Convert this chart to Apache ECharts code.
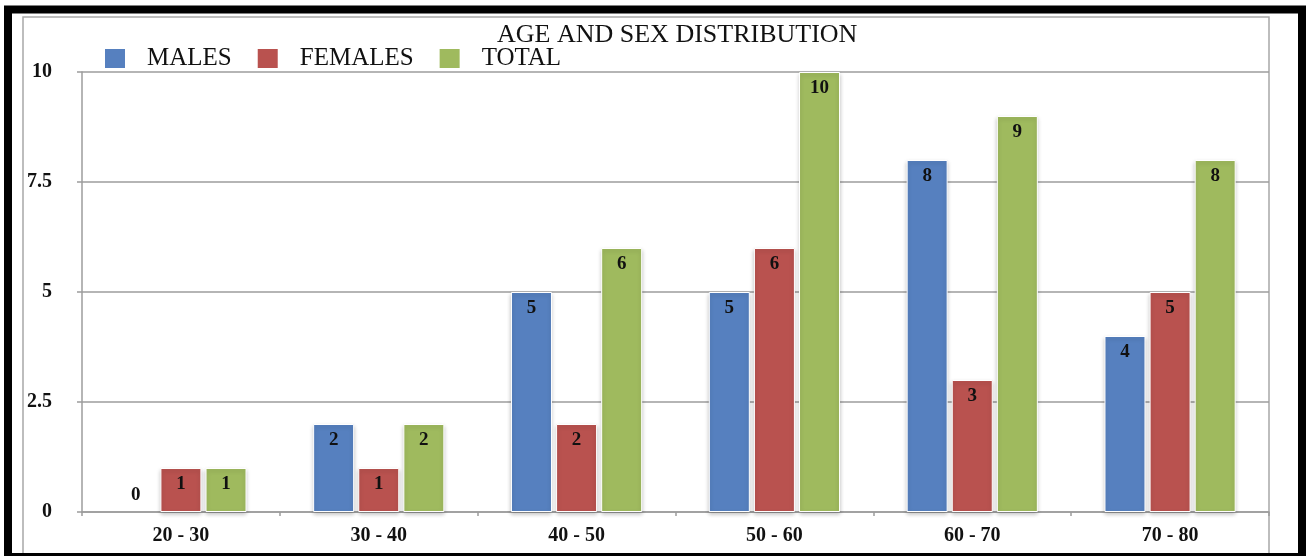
<!DOCTYPE html>
<html>
<head>
<meta charset="utf-8">
<script src="https://cdn.jsdelivr.net/npm/echarts@6/dist/echarts.min.js"></script>
<style>
  html, body { margin: 0; padding: 0; background: #fff; }
  #chart { width: 1306px; height: 556px; }
</style>
</head>
<body>
<div id="chart"></div>
<script>
// Age groups and counts per sex
const ageGroups = ['20 - 30', '30 - 40', '40 - 50', '50 - 60', '60 - 70', '70 - 80'];
const males   = [0, 2, 5, 5, 8, 4];
const females = [1, 1, 2, 6, 3, 5];
const totals  = [1, 2, 6, 10, 9, 8];
const yTicks  = { min: 0, max: 10, step: 2.5 };

const SERIF = '"Liberation Serif", "DejaVu Serif", serif';
const GRID_GRAY = '#9c9c9c';

// Zero-height bars show their label just above the baseline, with no outline
function withLabels(values) {
  return values.map(v => v === 0
    ? { value: v,
        label: { position: 'top', distance: 7 },
        itemStyle: { borderWidth: 0, shadowBlur: 0, shadowOffsetY: 0, shadowColor: 'transparent' } }
    : v);
}

function barSeries(name, values, color) {
  return {
    name: name,
    type: 'bar',
    barWidth: 41,
    barGap: '10%',
    data: withLabels(values),
    itemStyle: {
      color: color,
      borderColor: '#ffffff',
      borderWidth: 1,
      shadowColor: 'rgba(0,0,0,0.22)',
      shadowBlur: 4,
      shadowOffsetY: 2
    },
    label: {
      show: true,
      position: 'insideTop',
      distance: 7,
      color: '#111',
      fontFamily: SERIF,
      fontWeight: 'bold',
      fontSize: 19
    }
  };
}

const chart = echarts.init(document.getElementById('chart'), null, { renderer: 'canvas' });
chart.setOption({
  backgroundColor: '#ffffff',
  animation: false,
  title: {
    text: 'AGE AND SEX DISTRIBUTION',
    left: 497,
    top: 22,
    padding: 0,
    textStyle: { fontFamily: SERIF, fontWeight: 'normal', fontSize: 26, color: '#111' }
  },
  legend: {
    left: 105,
    top: 46,
    padding: 0,
    itemWidth: 20,
    itemHeight: 19,
    itemGap: 26,
    icon: 'rect',
    itemStyle: { borderWidth: 0 },
    textStyle: {
      fontFamily: SERIF, fontSize: 25, color: '#111',
      padding: [0, 0, 0, 17]
    },
    data: ['MALES', 'FEMALES', 'TOTAL']
  },
  graphic: [
    // thin gray panel edge
    { type: 'rect', silent: true, z: 0,
      shape: { x: 23, y: 17, width: 1246, height: 560 },
      style: { fill: 'none', stroke: '#a8a8a8', lineWidth: 1.5 } },
    // heavy black outer frame
    { type: 'rect', silent: true, z: 100,
      shape: { x: 8, y: 9.5, width: 1294, height: 547.5 },
      style: { fill: 'none', stroke: '#000', lineWidth: 8 } }
  ],
  grid: { left: 82, right: 37, top: 72, bottom: 44, containLabel: false },
  xAxis: {
    type: 'category',
    data: ageGroups,
    boundaryGap: true,
    axisLine: { lineStyle: { color: GRID_GRAY, width: 1.5 } },
    axisTick: { show: true, length: 4, lineStyle: { color: GRID_GRAY, width: 1.5 } },
    axisLabel: {
      margin: 14, color: '#111', fontFamily: SERIF, fontWeight: 'bold', fontSize: 20
    }
  },
  yAxis: {
    type: 'value',
    min: yTicks.min,
    max: yTicks.max,
    interval: yTicks.step,
    axisLine: { show: true, lineStyle: { color: GRID_GRAY, width: 1.5 } },
    axisTick: { show: true, length: 5, lineStyle: { color: GRID_GRAY, width: 1.5 } },
    splitLine: { show: true, lineStyle: { color: GRID_GRAY, width: 1.5 } },
    axisLabel: {
      margin: 30, color: '#111', fontFamily: SERIF, fontWeight: 'bold', fontSize: 20
    }
  },
  series: [
    barSeries('MALES', males, '#5680bf'),
    barSeries('FEMALES', females, '#b9524f'),
    barSeries('TOTAL', totals, '#9fba5e')
  ]
});
</script>
</body>
</html>
